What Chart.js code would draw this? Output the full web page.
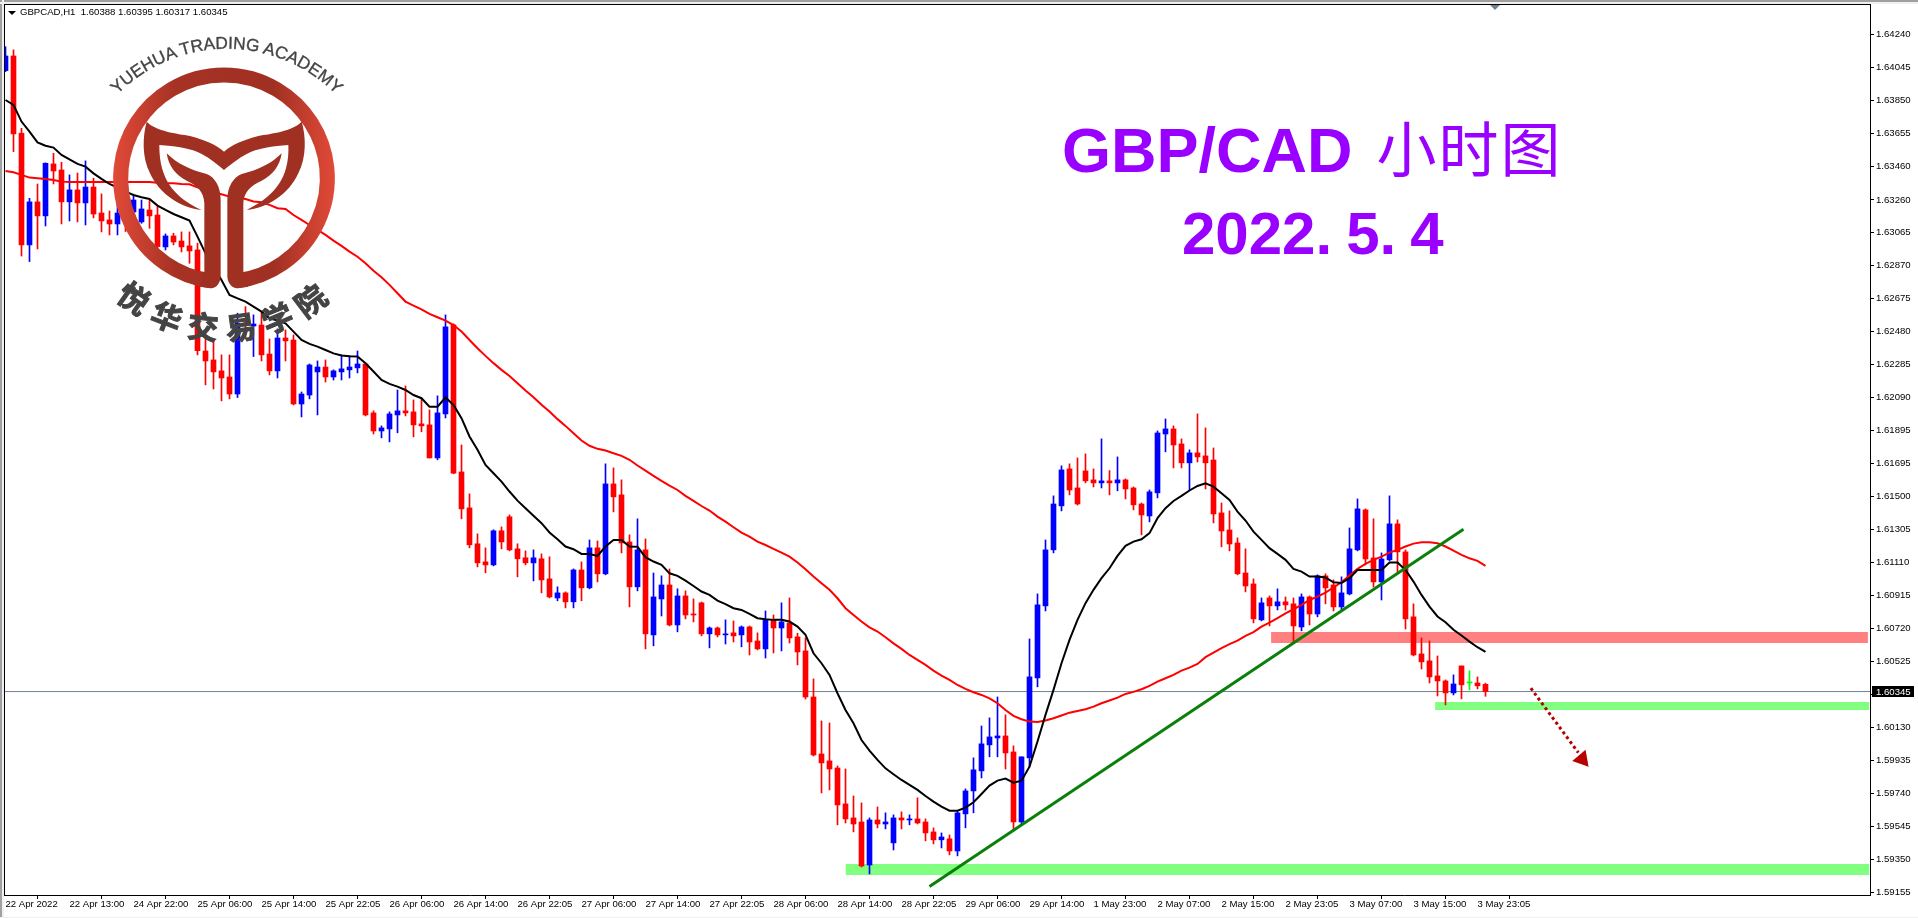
<!DOCTYPE html>
<html>
<head>
<meta charset="utf-8">
<title>GBP/CAD</title>
<script src="https://cdn.jsdelivr.net/npm/chart.js@4"></script>
<style>
    html, body { margin: 0; padding: 0; background: #fff; overflow: hidden; }
    #wrap { position: relative; width: 1918px; height: 918px; }
    canvas { position: absolute; left: 0; top: 0; }
    .head { position: absolute; left: 20px; top: 6px; font: 9.6px "Liberation Sans", sans-serif; color: #000; white-space: pre; }
    .head-arrow { position: absolute; left: 8px; top: 11px; width: 0; height: 0; border-left: 4px solid transparent; border-right: 4px solid transparent; border-top: 4px solid #000; }
    .shift-mark { position: absolute; left: 1490px; top: 5px; width: 0; height: 0; border-left: 5px solid transparent; border-right: 5px solid transparent; border-top: 5px solid #708090; }
    .title { position: absolute; color: #9900ff; white-space: pre; font-family: "Liberation Sans", sans-serif; font-weight: bold; }
    .title .cjk { font-family: "Noto Sans CJK SC", sans-serif; font-weight: 400; }
    svg { position: absolute; left: 0; top: 0; pointer-events: none; }
</style>
</head>
<body>
<div id="wrap">
    <canvas id="chart" width="1918" height="918"></canvas>
    <div class="head-arrow"></div>
    <div class="head">GBPCAD,H1  1.60388 1.60395 1.60317 1.60345</div>
    <div class="shift-mark"></div>

    <div class="title" id="t1" style="left:1062px; top:110px; font-size:63px; line-height:72px;">GBP/CAD<span class="cjk" style="font-size:60px; margin-left:24px; letter-spacing:2px;">小时图</span></div>
    <div class="title" id="t2" style="left:1182px; top:201px; font-size:60px; line-height:66px;">2022.<span style="margin-left:14px;">5.</span><span style="margin-left:14px;">4</span></div>

    <!-- logo, drawn in 3x coordinates -->
    <svg width="480" height="420" viewBox="0 0 1440 1260">
        <defs>
            <linearGradient id="ringGrad" x1="338" y1="0" x2="1006" y2="0" gradientUnits="userSpaceOnUse">
                <stop offset="0" stop-color="#e24a38"/>
                <stop offset="0.28" stop-color="#a63224"/>
                <stop offset="0.72" stop-color="#a03022"/>
                <stop offset="1" stop-color="#e24a38"/>
            </linearGradient>
            <path id="arcTop" d="M 320 320 A 460 460 0 0 1 1040 320"/>
            <path id="arcBottom" d="M 275 813 A 485 485 0 0 0 1069 813"/>
        </defs>
        <path d="M 630 842 A 310 310 0 1 1 714 842" fill="none" stroke="url(#ringGrad)" stroke-width="45"/>
        <path fill="#a03022" d="M 440 365 C 470 395 530 400 570 408 C 615 420 650 435 672 455 C 694 435 730 420 775 408 C 815 400 875 395 905 365
            C 918 410 920 470 895 520 C 865 585 800 625 740 630 C 790 605 840 570 858 505 C 865 480 866 455 865 435 C 820 438 770 445 740 462 C 715 475 690 495 672 510
            C 654 495 630 475 605 462 C 575 445 525 438 478 435 C 478 470 482 510 505 550 C 530 590 570 615 605 630 C 545 625 480 585 450 520 C 425 470 428 410 440 365 Z"/>
        <path fill="#a03022" d="M 500 460 C 530 490 570 510 620 522 C 645 532 662 560 662 600 L 662 830 C 660 855 645 865 630 865 L 600 860 L 613 815 L 613 610 C 612 575 590 555 560 542 C 525 525 505 495 500 460 Z"/>
        <path fill="#a03022" d="M 845 460 C 815 490 775 510 725 522 C 700 532 682 560 682 600 L 682 830 C 684 855 700 865 715 865 L 745 860 L 730 815 L 730 610 C 731 575 755 555 785 542 C 820 525 840 495 845 460 Z"/>
        <text font-family="Liberation Sans" font-size="52" fill="#444" stroke="#444" stroke-width="1" text-anchor="middle"><textPath href="#arcTop" startOffset="50%">YUEHUA TRADING ACADEMY</textPath></text>
        <text font-family="Noto Sans CJK SC" font-weight="700" font-size="92" fill="#444" stroke="#444" stroke-width="3" text-anchor="middle" letter-spacing="30"><textPath href="#arcBottom" startOffset="51%">悦华交易学院</textPath></text>
    </svg>
</div>

<script>
// Velas H1 (open, high, low, close)
const opens = [
    1.64026, 1.64113, 1.63655, 1.62993, 1.63248, 1.63165, 1.63473, 1.63437, 1.63248, 1.63319,
    1.63242, 1.63336, 1.63182, 1.63141, 1.63117, 1.63236, 1.63188, 1.63129, 1.63200, 1.63170,
    1.62981, 1.63046, 1.63016, 1.62987, 1.62963, 1.62364, 1.62311, 1.62246, 1.62210, 1.62109,
    1.62532, 1.62512, 1.62518, 1.62346, 1.62246, 1.62441, 1.62429, 1.62050, 1.62103, 1.62240,
    1.62269, 1.62210, 1.62240, 1.62252, 1.62264, 1.62287, 1.61997, 1.61890, 1.61902, 1.61985,
    1.62009, 1.62003, 1.61932, 1.61926, 1.61730, 1.61991, 1.62519, 1.61647, 1.61434, 1.61221,
    1.61114, 1.61096, 1.61298, 1.61381, 1.61191, 1.61138, 1.61108, 1.61132, 1.61013, 1.60900,
    1.60930, 1.60877, 1.61066, 1.60960, 1.61197, 1.61043, 1.61576, 1.61511, 1.61232, 1.60966,
    1.61185, 1.60681, 1.60894, 1.60977, 1.60740, 1.60912, 1.60805, 1.60871, 1.60687, 1.60722,
    1.60681, 1.60693, 1.60681, 1.60728, 1.60645, 1.60598, 1.60770, 1.60722, 1.60752, 1.60669,
    1.60586, 1.60313, 1.59975, 1.59934, 1.59892, 1.59679, 1.59596, 1.59572, 1.59317, 1.59584,
    1.59560, 1.59448, 1.59596, 1.59584, 1.59590, 1.59572, 1.59513, 1.59466, 1.59472, 1.59400,
    1.59620, 1.59756, 1.59875, 1.60029, 1.60070, 1.60082, 1.59987, 1.59572, 1.59952, 1.60426,
    1.60853, 1.61185, 1.61446, 1.61665, 1.61552, 1.61653, 1.61600, 1.61582, 1.61594, 1.61582,
    1.61600, 1.61552, 1.61457, 1.61386, 1.61523, 1.61872, 1.61902, 1.61813, 1.61701, 1.61760,
    1.61742, 1.61718, 1.61404, 1.61303, 1.61226, 1.61048, 1.60983, 1.60770, 1.60900, 1.60853,
    1.60877, 1.60865, 1.60728, 1.60906, 1.60805, 1.61031, 1.60977, 1.60847, 1.60924, 1.61185,
    1.61422, 1.61137, 1.60995, 1.61126, 1.61339, 1.61173, 1.60788, 1.60568, 1.60527, 1.60438,
    1.60408, 1.60337, 1.60497, 1.60396, 1.60396, 1.60388
];
const highs = [
    1.64168, 1.64149, 1.63684, 1.63269, 1.63354, 1.63479, 1.63536, 1.63483, 1.63408, 1.63419,
    1.63491, 1.63388, 1.63295, 1.63194, 1.63236, 1.63259, 1.63289, 1.63259, 1.63259, 1.63220,
    1.63058, 1.63062, 1.63070, 1.63070, 1.63003, 1.62489, 1.62426, 1.62341, 1.62341, 1.62588,
    1.62627, 1.62578, 1.62597, 1.62435, 1.62495, 1.62489, 1.62459, 1.62121, 1.62287, 1.62305,
    1.62311, 1.62252, 1.62341, 1.62335, 1.62364, 1.62293, 1.62009, 1.61920, 1.62003, 1.62133,
    1.62157, 1.62074, 1.62080, 1.62015, 1.62098, 1.62578, 1.62525, 1.61807, 1.61517, 1.61280,
    1.61197, 1.61304, 1.61321, 1.61392, 1.61221, 1.61179, 1.61185, 1.61161, 1.61144, 1.60966,
    1.60936, 1.61072, 1.61114, 1.61244, 1.61238, 1.61695, 1.61671, 1.61600, 1.61274, 1.61369,
    1.61250, 1.61048, 1.61031, 1.61072, 1.60954, 1.60942, 1.60894, 1.60876, 1.60728, 1.60728,
    1.60770, 1.60764, 1.60734, 1.60734, 1.60693, 1.60823, 1.60799, 1.60871, 1.60900, 1.60691,
    1.60663, 1.60420, 1.60171, 1.60159, 1.59904, 1.59886, 1.59726, 1.59685, 1.59596, 1.59661,
    1.59626, 1.59614, 1.59632, 1.59614, 1.59715, 1.59590, 1.59537, 1.59507, 1.59495, 1.59638,
    1.59768, 1.59952, 1.60141, 1.60189, 1.60313, 1.60207, 1.60023, 1.59958, 1.60657, 1.60924,
    1.61244, 1.61505, 1.61683, 1.61695, 1.61730, 1.61754, 1.61665, 1.61843, 1.61655, 1.61736,
    1.61606, 1.61558, 1.61463, 1.61540, 1.61890, 1.61961, 1.61920, 1.61843, 1.61778, 1.61991,
    1.61908, 1.61789, 1.61463, 1.61416, 1.61256, 1.61191, 1.61013, 1.60900, 1.60912, 1.60954,
    1.60906, 1.60900, 1.60924, 1.60912, 1.61037, 1.61043, 1.61007, 1.61025, 1.61315, 1.61487,
    1.61428, 1.61369, 1.61167, 1.61505, 1.61363, 1.61185, 1.60865, 1.60663, 1.60645, 1.60556,
    1.60414, 1.60444, 1.60497, 1.60468, 1.60432, 1.60395
];
const lows = [
    1.64020, 1.63546, 1.62927, 1.62894, 1.62969, 1.63105, 1.63354, 1.63117, 1.63135, 1.63129,
    1.63111, 1.63153, 1.63070, 1.63052, 1.63052, 1.63072, 1.63161, 1.63121, 1.63091, 1.62973,
    1.62963, 1.62993, 1.62951, 1.62884, 1.62341, 1.62163, 1.62139, 1.62068, 1.62080, 1.62088,
    1.62435, 1.62331, 1.62305, 1.62222, 1.62204, 1.62305, 1.62044, 1.61973, 1.62080, 1.61985,
    1.62180, 1.62192, 1.62192, 1.62204, 1.62234, 1.61979, 1.61872, 1.61849, 1.61825, 1.61879,
    1.61979, 1.61855, 1.61885, 1.61730, 1.61719, 1.61967, 1.61636, 1.61369, 1.61197, 1.61084,
    1.61049, 1.61090, 1.61191, 1.61179, 1.61025, 1.61096, 1.61001, 1.60930, 1.60900, 1.60883,
    1.60841, 1.60841, 1.60883, 1.60954, 1.60995, 1.61037, 1.61410, 1.61167, 1.60847, 1.60942,
    1.60598, 1.60616, 1.60793, 1.60734, 1.60699, 1.60776, 1.60758, 1.60675, 1.60604, 1.60669,
    1.60627, 1.60639, 1.60610, 1.60562, 1.60592, 1.60544, 1.60574, 1.60586, 1.60633, 1.60503,
    1.60301, 1.59963, 1.59744, 1.59762, 1.59555, 1.59566, 1.59513, 1.59305, 1.59264, 1.59537,
    1.59531, 1.59406, 1.59531, 1.59555, 1.59560, 1.59460, 1.59442, 1.59418, 1.59377, 1.59371,
    1.59537, 1.59626, 1.59833, 1.59958, 1.59958, 1.59886, 1.59525, 1.59560, 1.59898, 1.60373,
    1.60823, 1.61167, 1.61416, 1.61511, 1.61451, 1.61582, 1.61558, 1.61552, 1.61511, 1.61535,
    1.61487, 1.61422, 1.61274, 1.61351, 1.61493, 1.61766, 1.61671, 1.61671, 1.61540, 1.61706,
    1.61546, 1.61345, 1.61203, 1.61179, 1.61037, 1.60936, 1.60752, 1.60764, 1.60734, 1.60829,
    1.60829, 1.60639, 1.60705, 1.60740, 1.60788, 1.60865, 1.60823, 1.60829, 1.60918, 1.61179,
    1.61096, 1.60965, 1.60888, 1.61120, 1.61054, 1.60716, 1.60556, 1.60479, 1.60396, 1.60319,
    1.60266, 1.60325, 1.60302, 1.60355, 1.60361, 1.60317
];
const closes = [
    1.64113, 1.63651, 1.62993, 1.63248, 1.63165, 1.63477, 1.63431, 1.63248, 1.63319, 1.63242,
    1.63336, 1.63176, 1.63135, 1.63117, 1.63182, 1.63182, 1.63259, 1.63206, 1.63165, 1.62983,
    1.63046, 1.63010, 1.62981, 1.62957, 1.62366, 1.62305, 1.62240, 1.62204, 1.62109, 1.62528,
    1.62516, 1.62524, 1.62341, 1.62246, 1.62441, 1.62424, 1.62050, 1.62109, 1.62281, 1.62269,
    1.62210, 1.62246, 1.62258, 1.62269, 1.62287, 1.61985, 1.61890, 1.61908, 1.61991, 1.62009,
    1.61997, 1.61926, 1.61920, 1.61730, 1.61997, 1.62507, 1.61639, 1.61428, 1.61215, 1.61108,
    1.61096, 1.61298, 1.61232, 1.61185, 1.61132, 1.61108, 1.61138, 1.61007, 1.60906, 1.60930,
    1.60877, 1.61066, 1.60960, 1.61197, 1.61043, 1.61576, 1.61499, 1.61226, 1.60966, 1.61185,
    1.60687, 1.60906, 1.60977, 1.60740, 1.60912, 1.60799, 1.60799, 1.60687, 1.60722, 1.60681,
    1.60687, 1.60675, 1.60728, 1.60639, 1.60598, 1.60770, 1.60722, 1.60758, 1.60663, 1.60580,
    1.60313, 1.59969, 1.59922, 1.59886, 1.59673, 1.59590, 1.59560, 1.59311, 1.59584, 1.59560,
    1.59572, 1.59596, 1.59584, 1.59590, 1.59566, 1.59507, 1.59466, 1.59483, 1.59400, 1.59626,
    1.59756, 1.59881, 1.60035, 1.60076, 1.60082, 1.59981, 1.59572, 1.59958, 1.60432, 1.60859,
    1.61185, 1.61457, 1.61659, 1.61540, 1.61457, 1.61594, 1.61582, 1.61594, 1.61582, 1.61600,
    1.61546, 1.61452, 1.61392, 1.61529, 1.61878, 1.61902, 1.61807, 1.61701, 1.61760, 1.61736,
    1.61701, 1.61398, 1.61297, 1.61220, 1.61043, 1.60971, 1.60776, 1.60871, 1.60853, 1.60877,
    1.60859, 1.60734, 1.60906, 1.60805, 1.61031, 1.60960, 1.60847, 1.60930, 1.61191, 1.61428,
    1.61131, 1.60995, 1.61131, 1.61339, 1.61173, 1.60776, 1.60562, 1.60521, 1.60432, 1.60408,
    1.60337, 1.60390, 1.60385, 1.60396, 1.60379, 1.60345
];

// Medias moveis
const maFast = [
    1.63852, 1.63823, 1.63724, 1.63664, 1.63601, 1.63581, 1.63570, 1.63526, 1.63500, 1.63473,
    1.63457, 1.63417, 1.63384, 1.63354, 1.63333, 1.63309, 1.63289, 1.63275, 1.63265, 1.63226,
    1.63200, 1.63176, 1.63157, 1.63137, 1.63042, 1.62943, 1.62864, 1.62785, 1.62696, 1.62676,
    1.62657, 1.62627, 1.62597, 1.62558, 1.62544, 1.62528, 1.62479, 1.62429, 1.62406, 1.62390,
    1.62370, 1.62350, 1.62337, 1.62333, 1.62331, 1.62291, 1.62242, 1.62192, 1.62169, 1.62153,
    1.62133, 1.62103, 1.62084, 1.62034, 1.62034, 1.62088, 1.62044, 1.61966, 1.61857, 1.61778,
    1.61689, 1.61639, 1.61590, 1.61531, 1.61477, 1.61432, 1.61387, 1.61343, 1.61288, 1.61248,
    1.61205, 1.61189, 1.61161, 1.61161, 1.61149, 1.61205, 1.61244, 1.61244, 1.61205, 1.61203,
    1.61142, 1.61116, 1.61096, 1.61046, 1.61031, 1.61003, 1.60971, 1.60938, 1.60918, 1.60884,
    1.60863, 1.60839, 1.60829, 1.60805, 1.60780, 1.60774, 1.60770, 1.60770, 1.60760, 1.60730,
    1.60681, 1.60572, 1.60513, 1.60444, 1.60335, 1.60236, 1.60157, 1.60058, 1.59995, 1.59940,
    1.59890, 1.59855, 1.59821, 1.59792, 1.59762, 1.59726, 1.59693, 1.59663, 1.59639, 1.59639,
    1.59657, 1.59689, 1.59738, 1.59788, 1.59817, 1.59829, 1.59805, 1.59817, 1.59900, 1.60049,
    1.60207, 1.60355, 1.60513, 1.60651, 1.60770, 1.60869, 1.60948, 1.61017, 1.61076, 1.61149,
    1.61209, 1.61234, 1.61248, 1.61284, 1.61373, 1.61432, 1.61475, 1.61505, 1.61537, 1.61564,
    1.61580, 1.61560, 1.61521, 1.61481, 1.61412, 1.61359, 1.61293, 1.61244, 1.61195, 1.61161,
    1.61126, 1.61072, 1.61056, 1.61027, 1.61027, 1.61021, 1.60993, 1.60989, 1.61017, 1.61066,
    1.61066, 1.61066, 1.61066, 1.61110, 1.61110, 1.61066, 1.60997, 1.60918, 1.60849, 1.60790,
    1.60756, 1.60711, 1.60677, 1.60641, 1.60608, 1.60580
];
const maSlow = [
    1.63431, 1.63423, 1.63408, 1.63392, 1.63388, 1.63384, 1.63378, 1.63368, 1.63366, 1.63366,
    1.63366, 1.63366, 1.63366, 1.63366, 1.63366, 1.63366, 1.63366, 1.63366, 1.63366, 1.63362,
    1.63358, 1.63358, 1.63354, 1.63352, 1.63334, 1.63319, 1.63303, 1.63293, 1.63279, 1.63273,
    1.63265, 1.63250, 1.63246, 1.63230, 1.63210, 1.63206, 1.63170, 1.63141, 1.63111, 1.63082,
    1.63052, 1.63018, 1.62987, 1.62953, 1.62923, 1.62884, 1.62840, 1.62801, 1.62756, 1.62706,
    1.62657, 1.62633, 1.62611, 1.62584, 1.62564, 1.62544, 1.62518, 1.62479, 1.62429, 1.62380,
    1.62335, 1.62292, 1.62252, 1.62216, 1.62173, 1.62130, 1.62090, 1.62045, 1.62005, 1.61960,
    1.61920, 1.61877, 1.61833, 1.61802, 1.61784, 1.61774, 1.61758, 1.61742, 1.61719, 1.61685,
    1.61655, 1.61624, 1.61594, 1.61566, 1.61540, 1.61505, 1.61475, 1.61445, 1.61418, 1.61382,
    1.61352, 1.61319, 1.61287, 1.61263, 1.61234, 1.61214, 1.61191, 1.61169, 1.61145, 1.61110,
    1.61070, 1.61027, 1.60987, 1.60948, 1.60898, 1.60839, 1.60799, 1.60760, 1.60726, 1.60701,
    1.60667, 1.60631, 1.60598, 1.60562, 1.60533, 1.60503, 1.60469, 1.60440, 1.60414, 1.60384,
    1.60361, 1.60341, 1.60325, 1.60305, 1.60276, 1.60236, 1.60201, 1.60181, 1.60167, 1.60165,
    1.60173, 1.60187, 1.60203, 1.60220, 1.60230, 1.60240, 1.60256, 1.60276, 1.60292, 1.60309,
    1.60331, 1.60343, 1.60359, 1.60379, 1.60404, 1.60424, 1.60444, 1.60469, 1.60487, 1.60509,
    1.60549, 1.60576, 1.60602, 1.60626, 1.60647, 1.60675, 1.60697, 1.60730, 1.60754, 1.60780,
    1.60809, 1.60833, 1.60859, 1.60888, 1.60908, 1.60932, 1.60962, 1.60993, 1.61033, 1.61072,
    1.61102, 1.61126, 1.61145, 1.61169, 1.61185, 1.61205, 1.61222, 1.61230, 1.61230, 1.61224,
    1.61205, 1.61181, 1.61155, 1.61135, 1.61120, 1.61090
];

// Eixos
const xTickBars = [0, 8, 16, 24, 32, 40, 48, 56, 64, 72, 80, 88, 96, 104, 112, 120, 128, 136, 144, 152, 160, 168, 176, 184];
const xTickLabels = [
    '22 Apr 2022', '22 Apr 13:00', '24 Apr 22:00', '25 Apr 06:00', '25 Apr 14:00', '25 Apr 22:05',
    '26 Apr 06:00', '26 Apr 14:00', '26 Apr 22:05', '27 Apr 06:00', '27 Apr 14:00', '27 Apr 22:05',
    '28 Apr 06:00', '28 Apr 14:00', '28 Apr 22:05', '29 Apr 06:00', '29 Apr 14:00', '1 May 23:00',
    '2 May 07:00', '2 May 15:00', '2 May 23:05', '3 May 07:00', '3 May 15:00', '3 May 23:05'
];
const yTickLabels = [
    '1.64240', '1.64045', '1.63850', '1.63655', '1.63460', '1.63260', '1.63065', '1.62870', '1.62675',
    '1.62480', '1.62285', '1.62090', '1.61895', '1.61695', '1.61500', '1.61305', '1.61110', '1.60915',
    '1.60720', '1.60525', '1.60330', '1.60130', '1.59935', '1.59740', '1.59545', '1.59350', '1.59155'
];
const lastPrice = 1.60345;

// Objetos desenhados a mao no grafico: [inicio, fim, topo, base]
const greenZoneLow = [105.0, 233, 1.59323, 1.59258];
const greenZoneNear = [178.7, 233, 1.60283, 1.60236];
const redZone = [158.2, 232.8, 1.60698, 1.60633];
const trendX = [115.5, 182.25];
const trendY = [1.59189, 1.61307];
const arrowX = [190.67, 196.6];
const arrowY = [1.60365, 1.59983];
const arrowHead = [197.08, 1.59944];

const candleColor = (i) => closes[i] > opens[i] ? '#0000ff' : (closes[i] < opens[i] ? '#ff0000' : '#00ff00');
const colors = opens.map((o, i) => candleColor(i));

function zone(z, color) {
    return {
        type: 'line', order: 20, borderWidth: 0, pointRadius: 0, backgroundColor: color,
        fill: { target: { value: z[3] } },
        data: [{ x: z[0], y: z[2] }, { x: z[1], y: z[2] }]
    };
}

function priceLine(values, color, order) {
    return {
        type: 'line', order: order, borderColor: color, borderWidth: 2, pointRadius: 0, tension: 0, fill: false,
        data: values.map((v, i) => ({ x: i, y: v }))
    };
}

// moldura da janela e etiqueta do preco atual
const framePlugin = {
    id: 'frame',
    beforeDraw(chart) {
        const c = chart.ctx;
        c.save();
        c.fillStyle = '#fff';
        c.fillRect(0, 0, 1918, 918);
        c.fillStyle = '#a0a0a0';
        c.fillRect(0, 0, 1918, 2);
        c.fillRect(0, 0, 2, 918);
        c.fillStyle = '#f0f0f0';
        c.fillRect(0, 2, 1918, 2);
        c.fillRect(2, 0, 2, 918);
        c.fillRect(0, 917, 1918, 1);
        c.restore();
    },
    afterDraw(chart) {
        const c = chart.ctx;
        const a = chart.chartArea;
        c.save();
        c.fillStyle = '#000';
        c.fillRect(a.left, a.top, a.right - a.left, 1);
        c.fillRect(a.left, a.top, 1, a.bottom - a.top);
        const y = Math.round(chart.scales.y.getPixelForValue(lastPrice));
        c.fillRect(1872, y - 6, 42, 11);
        c.fillStyle = '#fff';
        c.font = '9.6px "Liberation Sans"';
        c.textBaseline = 'middle';
        c.fillText(lastPrice.toFixed(5), 1876, y);
        c.restore();
    }
};

new Chart(document.getElementById('chart').getContext('2d'), {
    data: {
        datasets: [
            zone(greenZoneLow, '#80ff80'),
            zone(greenZoneNear, '#80ff80'),
            zone(redZone, '#ff8080'),
            {
                type: 'line', order: 15, borderColor: '#708090', borderWidth: 1, pointRadius: 0,
                data: [{ x: -1, y: lastPrice }, { x: 234, y: lastPrice }]
            },
            {
                type: 'bar', order: 10, grouped: false, barThickness: 1, borderWidth: 0,
                backgroundColor: colors,
                data: highs.map((h, i) => ({ x: i, y: [lows[i], h] }))
            },
            {
                type: 'bar', order: 9, grouped: false, barThickness: 5, borderWidth: 0, minBarLength: 1,
                backgroundColor: colors,
                data: opens.map((o, i) => ({ x: i, y: [o, closes[i]] }))
            },
            priceLine(maSlow, '#ff0000', 6),
            priceLine(maFast, '#000000', 5),
            {
                type: 'line', order: 3, borderColor: '#0a800a', borderWidth: 3, pointRadius: 0,
                data: [{ x: trendX[0], y: trendY[0] }, { x: trendX[1], y: trendY[1] }]
            },
            {
                type: 'line', order: 2, borderColor: '#b40000', borderWidth: 3, borderDash: [3, 3], pointRadius: 0,
                data: [{ x: arrowX[0], y: arrowY[0] }, { x: arrowX[1], y: arrowY[1] }]
            },
            {
                type: 'scatter', order: 1, pointStyle: 'triangle', pointRadius: 10, pointRotation: 140,
                pointBackgroundColor: '#b80000', pointBorderWidth: 0,
                data: [{ x: arrowHead[0], y: arrowHead[1] }]
            }
        ]
    },
    options: {
        responsive: false,
        animation: false,
        layout: { autoPadding: false, padding: { left: 4, top: 4, right: 0, bottom: 0 } },
        plugins: { legend: { display: false }, tooltip: { enabled: false } },
        scales: {
            x: {
                type: 'linear',
                // vela i centrada em 5.5 + 8i
                min: -0.1875,
                max: 233.0625,
                offset: false,
                border: { color: '#000', width: 1 },
                grid: { drawOnChartArea: false, tickColor: '#000', tickLength: 4 },
                afterBuildTicks(scale) { scale.ticks = xTickBars.map(v => ({ value: v })); },
                afterFit(scale) { scale.height = 23; },
                ticks: {
                    autoSkip: false, maxRotation: 0, align: 'start', padding: 0,
                    color: '#000', font: { family: 'Liberation Sans', size: 9.6 },
                    callback: (v, i) => xTickLabels[i]
                }
            },
            y: {
                type: 'linear',
                position: 'right',
                min: 1.59139,
                max: 1.64421,
                border: { color: '#000', width: 1 },
                grid: { drawOnChartArea: false, tickColor: '#000', tickLength: 4 },
                afterBuildTicks(scale) { scale.ticks = yTickLabels.map(v => ({ value: parseFloat(v) })); },
                afterFit(scale) {
                    scale.width = 48;
                    // sem isto o topo da area desce quase 4px
                    scale.paddingTop = 0;
                    scale.paddingBottom = 0;
                },
                ticks: {
                    autoSkip: false, padding: 2,
                    color: '#000', font: { family: 'Liberation Sans', size: 9.6 },
                    callback: (v, i) => yTickLabels[i]
                }
            }
        }
    },
    plugins: [framePlugin]
});
</script>
</body>
</html>
